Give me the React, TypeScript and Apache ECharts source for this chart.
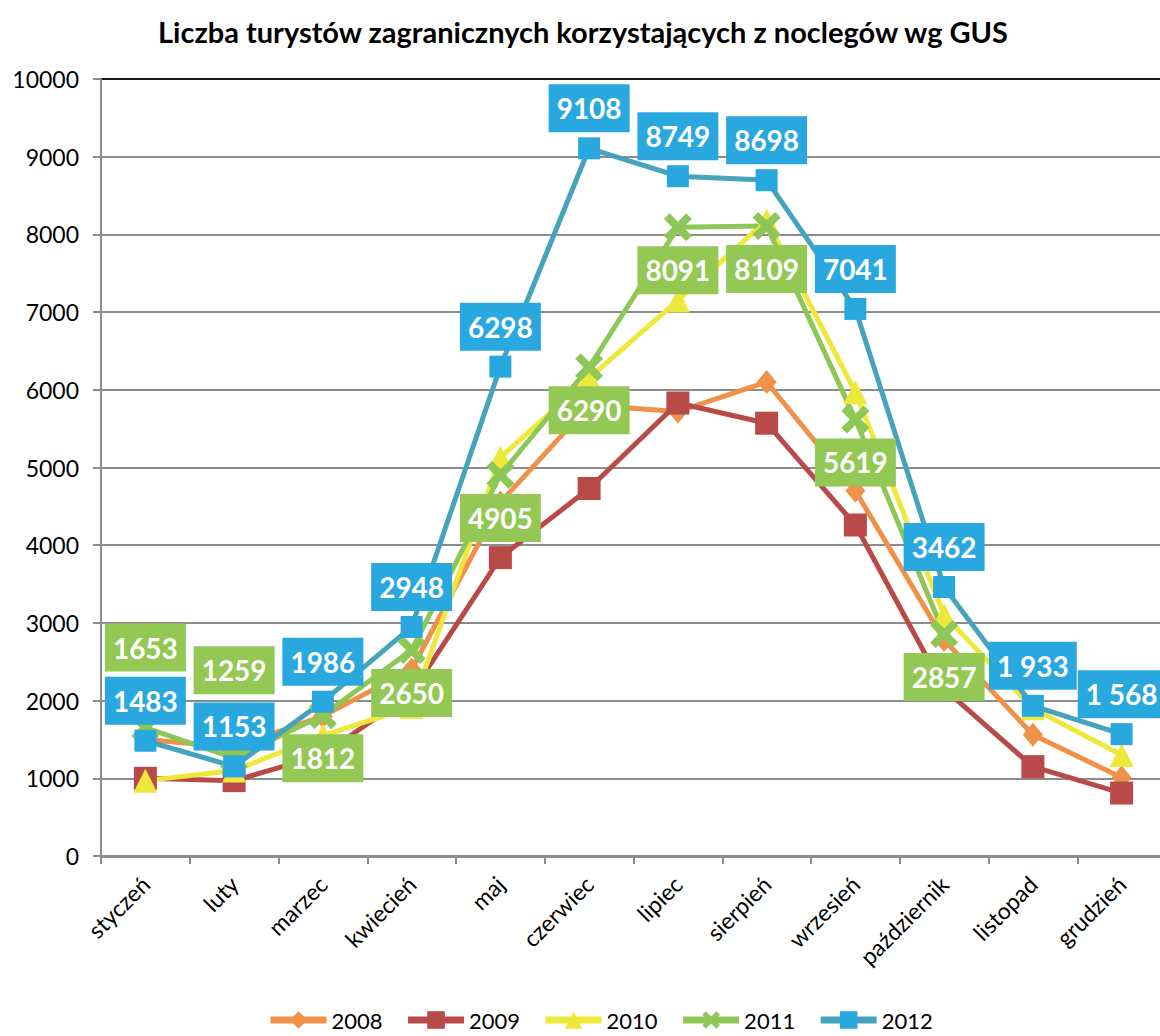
import React, { useEffect, useRef } from "react";
import * as echarts from "echarts";

const categories = ["styczeń", "luty", "marzec", "kwiecień", "maj", "czerwiec", "lipiec", "sierpień", "wrzesień", "październik", "listopad", "grudzień"];
const years = ["2008", "2009", "2010", "2011", "2012"];
const d2008 = [1500, 1400, 1800, 2400, 4550, 5800, 5720, 6100, 4700, 2780, 1560, 1010];
const d2009 = [1000, 970, 1300, 2100, 3840, 4730, 5830, 5570, 4260, 2150, 1150, 810];
const d2010 = [970, 1100, 1550, 1920, 5130, 6150, 7150, 8180, 5970, 3100, 1900, 1300];
const d2011 = [1653, 1259, 1812, 2650, 4905, 6290, 8091, 8109, 5619, 2857, null, null];
const d2012 = [1483, 1153, 1986, 2948, 6298, 9108, 8749, 8698, 7041, 3462, 1933, 1568];
const labels2011 = ["1653", "1259", "1812", "2650", "4905", "6290", "8091", "8109", "5619", "2857", "", ""];
const labels2012 = ["1483", "1153", "1986", "2948", "6298", "9108", "8749", "8698", "7041", "3462", "1 933", "1 568"];
const yTicks = { min: 0, max: 10000, interval: 1000 };

const FONT = "Lato, 'Open Sans', sans-serif";
const X_PATH = "path://M0,2 L2,0 L5,3 L8,0 L10,2 L7,5 L10,8 L8,10 L5,7 L2,10 L0,8 L3,5 Z";

const BLUE_BOX = "#29A8E0";
const GREEN_BOX = "#92C853";

function boxLabel(bg: string) {
  return {
    show: true,
    color: "#ffffff",
    fontFamily: FONT,
    fontWeight: "bold",
    fontSize: 28,
    lineHeight: 28,
    backgroundColor: bg,
    padding: [10, 8, 10, 8],
  };
}

export default function App() {
  const ref = useRef<HTMLDivElement>(null);
  useEffect(() => {
    document.body.style.margin = "0";
    const chart = echarts.init(ref.current!, undefined, { renderer: "svg" });
    const gridColors = Array.from({ length: 11 }, (_, i) => (i === 10 ? "#1a1a1a" : "#8c8c8c"));
    const option: any = {
      animation: false,
      backgroundColor: "#ffffff",
      title: {
        text: "Liczba turystów zagranicznych korzystających z noclegów wg GUS",
        left: "center",
        top: 12,
        textStyle: { fontFamily: FONT, fontWeight: "bold", fontSize: 29, color: "#000" },
      },
      legend: {
        data: years,
        left: 262,
        top: 1004,
        itemWidth: 56,
        itemHeight: 22,
        itemGap: 22,
        lineStyle: { width: 7 },
        textStyle: { fontFamily: FONT, fontSize: 22, color: "#000" },
      },
      grid: { left: 101, top: 79, right: -6, bottom: 180, containLabel: false },
      xAxis: {
        type: "category",
        data: categories,
        boundaryGap: true,
        axisLine: { show: true, lineStyle: { color: "#8c8c8c", width: 3 } },
        axisTick: { show: true, length: 8, interval: 0, lineStyle: { color: "#8c8c8c", width: 2 } },
        axisLabel: { interval: 0, rotate: 45, margin: 24, fontFamily: FONT, fontSize: 23, color: "#000" },
        splitLine: { show: false },
      },
      yAxis: {
        type: "value",
        min: yTicks.min,
        max: yTicks.max,
        interval: yTicks.interval,
        axisLine: { show: true, lineStyle: { color: "#8c8c8c", width: 2 } },
        axisTick: { show: true, length: 8, lineStyle: { color: "#8c8c8c", width: 2 } },
        axisLabel: { margin: 22, fontFamily: FONT, fontSize: 23, color: "#000", formatter: (v: number) => String(v) },
        splitLine: { show: true, lineStyle: { color: gridColors, width: 2 } },
      },
      series: [
        {
          name: "2008",
          type: "line",
          data: d2008,
          symbol: "diamond",
          symbolSize: [20, 24],
          lineStyle: { color: "#F0914A", width: 5 },
          itemStyle: { color: "#F0914A" },
        },
        {
          name: "2009",
          type: "line",
          data: d2009,
          symbol: "rect",
          symbolSize: 23,
          lineStyle: { color: "#B94A48", width: 5 },
          itemStyle: { color: "#B94A48" },
        },
        {
          name: "2010",
          type: "line",
          data: d2010,
          symbol: "triangle",
          symbolSize: 24,
          lineStyle: { color: "#EEE83B", width: 5 },
          itemStyle: { color: "#EEE83B" },
        },
        {
          name: "2011",
          type: "line",
          data: d2011.map((v, i) =>
            i === 0
              ? { value: v, label: { position: "top", distance: 42 } }
              : i === 1
              ? { value: v, label: { position: "top", distance: 50 } }
              : v
          ),
          symbol: X_PATH,
          symbolSize: 28,
          lineStyle: { color: "#8DC755", width: 5 },
          itemStyle: { color: "#8DC755" },
          label: {
            ...boxLabel(GREEN_BOX),
            position: "bottom",
            distance: 5,
            formatter: (p: any) => labels2011[p.dataIndex],
          },
        },
        {
          name: "2012",
          type: "line",
          data: d2012,
          symbol: "rect",
          symbolSize: 22,
          lineStyle: { color: "#45A3BC", width: 5 },
          itemStyle: { color: BLUE_BOX },
          label: {
            ...boxLabel(BLUE_BOX),
            position: "top",
            distance: 5,
            formatter: (p: any) => labels2012[p.dataIndex],
          },
        },
      ],
    };
    chart.setOption(option);
    return () => chart.dispose();
  }, []);
  return (
    <div style={{ width: 1160, height: 1036, overflow: "hidden", position: "relative" }}>
      <div ref={ref} style={{ width: 1166, height: 1036 }} />
    </div>
  );
}
